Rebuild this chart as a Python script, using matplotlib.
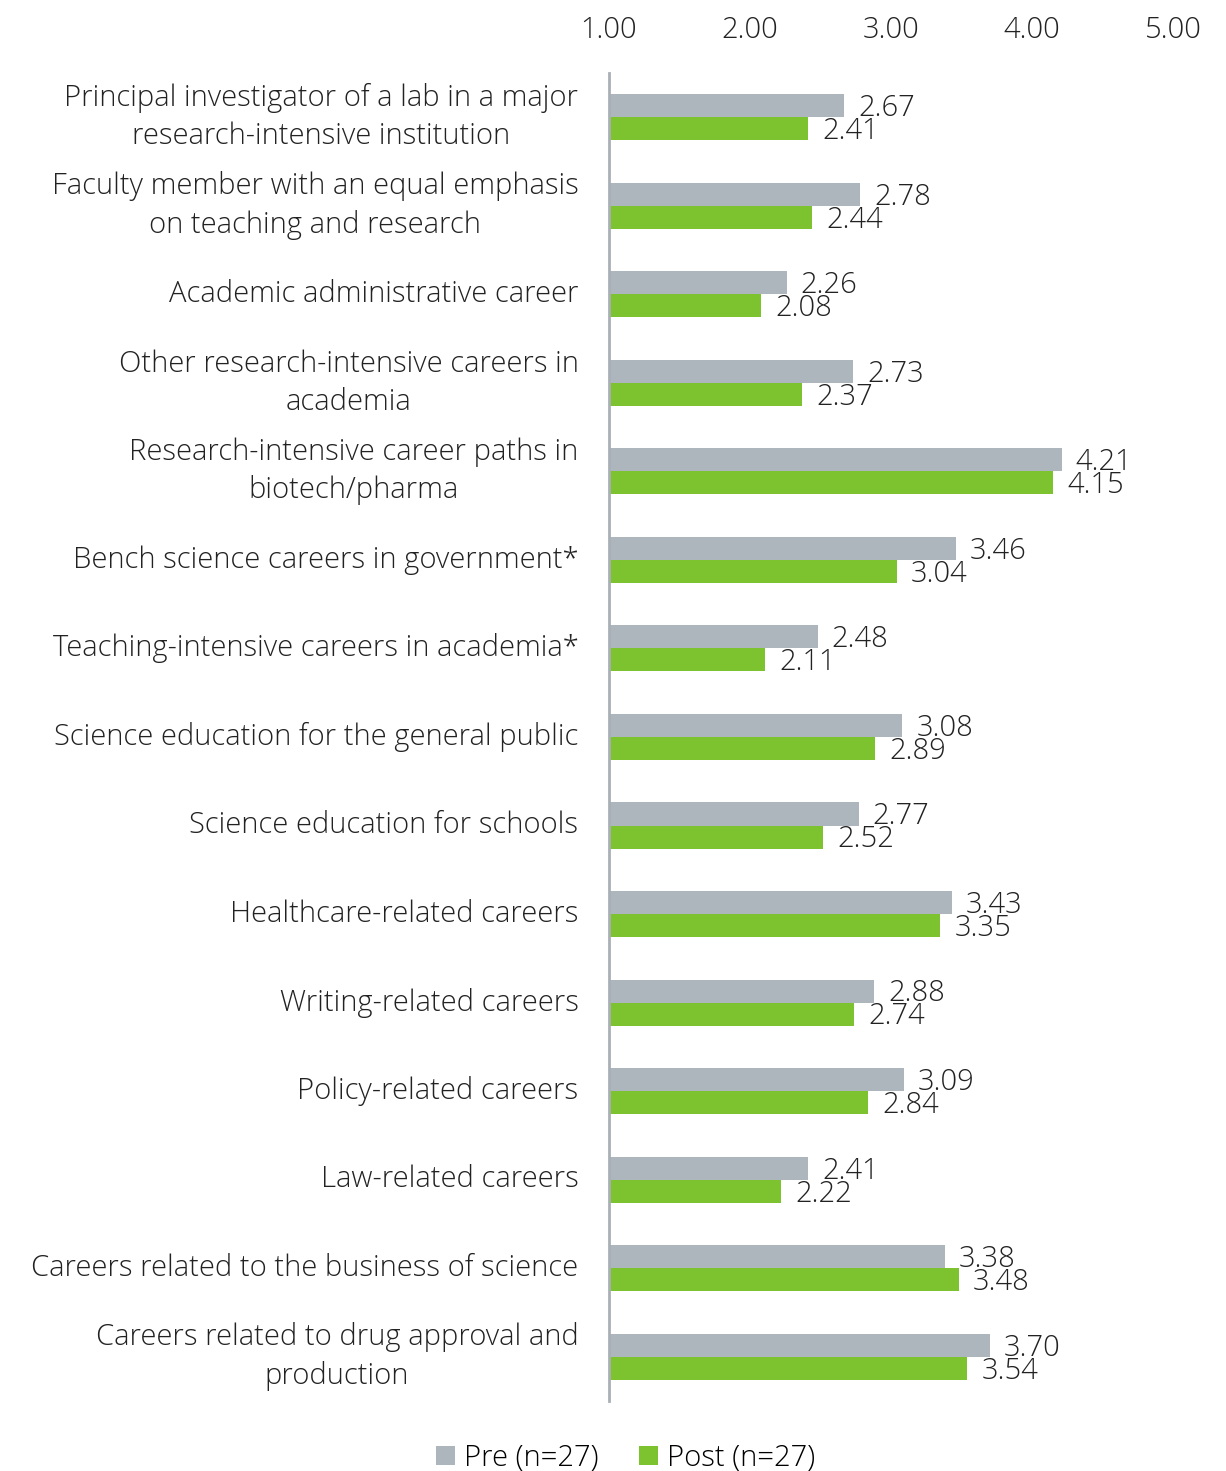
import matplotlib.pyplot as plt
import numpy as np

plt.rcParams['font.family'] = ['Open Sans', 'DejaVu Sans']

categories = [
    "Principal investigator of a lab in a major\nresearch-intensive institution",
    "Faculty member with an equal emphasis\non teaching and research",
    "Academic administrative career",
    "Other research-intensive careers in\nacademia",
    "Research-intensive career paths in\nbiotech/pharma",
    "Bench science careers in government*",
    "Teaching-intensive careers in academia*",
    "Science education for the general public",
    "Science education for schools",
    "Healthcare-related careers",
    "Writing-related careers",
    "Policy-related careers",
    "Law-related careers",
    "Careers related to the business of science",
    "Careers related to drug approval and\nproduction",
]
pre = [2.67, 2.78, 2.26, 2.73, 4.21, 3.46, 2.48, 3.08, 2.77, 3.43, 2.88, 3.09, 2.41, 3.38, 3.70]
post = [2.41, 2.44, 2.08, 2.37, 4.15, 3.04, 2.11, 2.89, 2.52, 3.35, 2.74, 2.84, 2.22, 3.48, 3.54]
ticks = [1, 2, 3, 4, 5]

gray = "#aeb6bd"
green = "#7dc22f"
txt = "#222222"
fs = 21

fig = plt.figure(figsize=(12.26, 14.71), dpi=100)
ax = fig.add_axes([0.4967, 0.0476, 0.9568 - 0.4967, 0.9028])

y = np.arange(len(categories))
h = 0.26
base = 1.0
b1 = ax.barh(y - h / 2, np.array(pre) - base, left=base, height=h, color=gray,
             label="Pre (n=27)")
b2 = ax.barh(y + h / 2, np.array(post) - base, left=base, height=h, color=green,
             label="Post (n=27)")

# value labels just right of each bar end
for yi, v in zip(y, pre):
    ax.text(v + 0.1, yi - h / 2 + 0.03, f"{v:.2f}", va="center", ha="left",
            fontsize=fs, color=txt, fontweight="light")
for yi, v in zip(y, post):
    ax.text(v + 0.1, yi + h / 2 + 0.03, f"{v:.2f}", va="center", ha="left",
            fontsize=fs, color=txt, fontweight="light")

ax.set_xlim(1, 5)
ax.set_ylim(len(categories) - 0.5, -0.5)
ax.set_yticks(y)
ax.set_yticklabels(categories, fontsize=fs, color=txt, fontweight="light",
                   multialignment="center", linespacing=1.38, va="center")
ax.set_xticks(ticks)
ax.set_xticklabels([f"{t:.2f}" for t in ticks], fontsize=fs, color=txt,
                   fontweight="light")
ax.xaxis.tick_top()
ax.tick_params(axis="x", length=0, pad=20)
ax.tick_params(axis="y", length=0, pad=22)

for s in ["top", "right", "bottom"]:
    ax.spines[s].set_visible(False)
ax.spines["left"].set_color("#a9b0b5")
ax.spines["left"].set_linewidth(2)

fig.legend(handles=[b1, b2], loc="lower center", ncol=2, frameon=False,
           bbox_to_anchor=(0.51, -0.019), handlelength=0.65,
           handleheight=0.65, handletextpad=0.3, columnspacing=1.4,
           prop={"weight": "light", "size": fs})

fig.savefig("out.png", dpi=100, facecolor="white")
